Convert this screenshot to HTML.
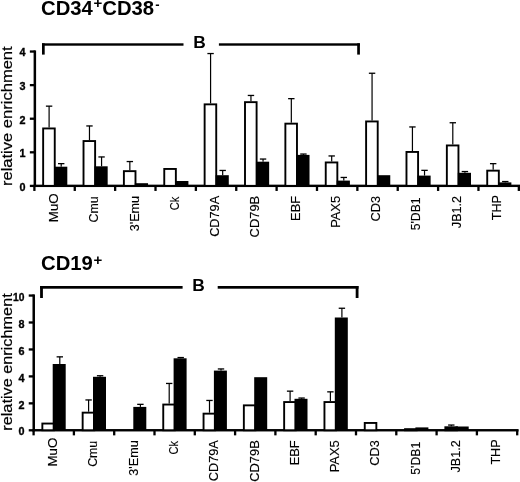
<!DOCTYPE html>
<html><head><meta charset="utf-8"><title>chart</title><style>
html,body{margin:0;padding:0;background:#fff;}svg{display:block;filter:grayscale(1)}
text{font-family:"Liberation Sans",sans-serif;fill:#000}
.tk{font-size:10.8px;font-weight:bold;stroke:#000;stroke-width:0.35px}.cat{font-size:12.9px;stroke:#000;stroke-width:0.15px}.B{font-size:17px;font-weight:bold}.yt{font-size:15.0px;stroke:#000;stroke-width:0.2px}.ttl{font-size:20px;font-weight:bold}.sup{font-size:15px;font-weight:bold}
</style></head><body>
<svg width="520" height="482" viewBox="0 0 520 482">
<rect x="0" y="0" width="520" height="482" fill="#fff"/>
<g fill="#000">
<rect x="33.60" y="50.39" width="2.5" height="136.56"/>
<rect x="33.60" y="184.65" width="486.40" height="2.4"/>
<rect x="29.85" y="184.75" width="5" height="2.3"/>
<text class="tk" transform="translate(25.55,190.75) scale(1.0,1.0)" text-anchor="end">0</text>
<rect x="29.85" y="151.16" width="5" height="2.3"/>
<text class="tk" transform="translate(25.55,157.16) scale(1.0,1.0)" text-anchor="end">1</text>
<rect x="29.85" y="117.57" width="5" height="2.3"/>
<text class="tk" transform="translate(25.55,123.57) scale(1.0,1.0)" text-anchor="end">2</text>
<rect x="29.85" y="83.98" width="5" height="2.3"/>
<text class="tk" transform="translate(25.55,89.98) scale(1.0,1.0)" text-anchor="end">3</text>
<rect x="29.85" y="50.39" width="5" height="2.3"/>
<text class="tk" transform="translate(25.55,56.39) scale(1.0,1.0)" text-anchor="end">4</text>
<rect x="33.25" y="185.85" width="2.3" height="5.1"/>
<rect x="73.62" y="185.85" width="2.3" height="5.1"/>
<rect x="113.99" y="185.85" width="2.3" height="5.1"/>
<rect x="154.36" y="185.85" width="2.3" height="5.1"/>
<rect x="194.73" y="185.85" width="2.3" height="5.1"/>
<rect x="235.10" y="185.85" width="2.3" height="5.1"/>
<rect x="275.47" y="185.85" width="2.3" height="5.1"/>
<rect x="315.84" y="185.85" width="2.3" height="5.1"/>
<rect x="356.21" y="185.85" width="2.3" height="5.1"/>
<rect x="396.58" y="185.85" width="2.3" height="5.1"/>
<rect x="436.95" y="185.85" width="2.3" height="5.1"/>
<rect x="477.32" y="185.85" width="2.3" height="5.1"/>
<rect x="517.69" y="185.85" width="2.3" height="5.1"/>
<rect x="43.15" y="128.45" width="11.60" height="57.40" fill="#fff" stroke="#000" stroke-width="1.9"/>
<rect x="48.50" y="106.10" width="1.2" height="21.40"/>
<rect x="45.90" y="105.50" width="6.4" height="1.3"/>
<rect x="54.10" y="166.70" width="13.2" height="19.15"/>
<rect x="60.60" y="163.60" width="1.2" height="3.10"/>
<rect x="58.00" y="163.00" width="6.4" height="1.3"/>
<text class="cat" transform="translate(57.90,193.25) rotate(-90) scale(1.035,1.0)" text-anchor="end">MuO</text>
<rect x="83.52" y="141.05" width="11.60" height="44.80" fill="#fff" stroke="#000" stroke-width="1.9"/>
<rect x="88.87" y="125.90" width="1.2" height="14.20"/>
<rect x="86.27" y="125.30" width="6.4" height="1.3"/>
<rect x="94.47" y="166.30" width="13.2" height="19.55"/>
<rect x="100.97" y="156.90" width="1.2" height="9.40"/>
<rect x="98.37" y="156.30" width="6.4" height="1.3"/>
<text class="cat" transform="translate(98.20,196.35) rotate(-90) scale(0.96,1.0)" text-anchor="end">Cmu</text>
<rect x="123.89" y="171.15" width="11.60" height="14.70" fill="#fff" stroke="#000" stroke-width="1.9"/>
<rect x="129.24" y="161.50" width="1.2" height="8.70"/>
<rect x="126.64" y="160.90" width="6.4" height="1.3"/>
<rect x="134.84" y="183.20" width="13.2" height="2.65"/>
<text class="cat" transform="translate(138.50,195.85) rotate(-90) scale(0.98,1.0)" text-anchor="end">3'Emu</text>
<rect x="164.26" y="168.95" width="11.60" height="16.90" fill="#fff" stroke="#000" stroke-width="1.9"/>
<rect x="175.21" y="181.00" width="13.2" height="4.85"/>
<text class="cat" transform="translate(178.80,196.65) rotate(-90) scale(0.86,1.0)" text-anchor="end">Ck</text>
<rect x="204.63" y="104.35" width="11.60" height="81.50" fill="#fff" stroke="#000" stroke-width="1.9"/>
<rect x="209.98" y="53.50" width="1.2" height="49.90"/>
<rect x="207.38" y="52.90" width="6.4" height="1.3"/>
<rect x="215.58" y="175.20" width="13.2" height="10.65"/>
<rect x="222.08" y="170.40" width="1.2" height="4.80"/>
<rect x="219.48" y="169.80" width="6.4" height="1.3"/>
<text class="cat" transform="translate(219.10,195.85) rotate(-90) scale(0.985,1.0)" text-anchor="end">CD79A</text>
<rect x="245.00" y="102.15" width="11.60" height="83.70" fill="#fff" stroke="#000" stroke-width="1.9"/>
<rect x="250.35" y="95.40" width="1.2" height="5.80"/>
<rect x="247.75" y="94.80" width="6.4" height="1.3"/>
<rect x="255.95" y="161.70" width="13.2" height="24.15"/>
<rect x="262.45" y="159.00" width="1.2" height="2.70"/>
<rect x="259.85" y="158.40" width="6.4" height="1.3"/>
<text class="cat" transform="translate(259.40,195.85) rotate(-90) scale(1.0,1.0)" text-anchor="end">CD79B</text>
<rect x="285.37" y="123.65" width="11.60" height="62.20" fill="#fff" stroke="#000" stroke-width="1.9"/>
<rect x="290.72" y="98.60" width="1.2" height="24.10"/>
<rect x="288.12" y="98.00" width="6.4" height="1.3"/>
<rect x="296.32" y="154.90" width="13.2" height="30.95"/>
<rect x="302.82" y="154.00" width="1.2" height="0.90"/>
<rect x="300.22" y="153.40" width="6.4" height="1.3"/>
<text class="cat" transform="translate(299.70,195.85) rotate(-90) scale(1.0,1.0)" text-anchor="end">EBF</text>
<rect x="325.74" y="162.45" width="11.60" height="23.40" fill="#fff" stroke="#000" stroke-width="1.9"/>
<rect x="331.09" y="155.90" width="1.2" height="5.60"/>
<rect x="328.49" y="155.30" width="6.4" height="1.3"/>
<rect x="336.69" y="180.60" width="13.2" height="5.25"/>
<rect x="343.19" y="177.40" width="1.2" height="3.20"/>
<rect x="340.59" y="176.80" width="6.4" height="1.3"/>
<text class="cat" transform="translate(340.00,195.85) rotate(-90) scale(1.0,1.0)" text-anchor="end">PAX5</text>
<rect x="366.11" y="121.45" width="11.60" height="64.40" fill="#fff" stroke="#000" stroke-width="1.9"/>
<rect x="371.46" y="73.20" width="1.2" height="47.30"/>
<rect x="368.86" y="72.60" width="6.4" height="1.3"/>
<rect x="377.06" y="175.20" width="13.2" height="10.65"/>
<text class="cat" transform="translate(379.50,195.85) rotate(-90) scale(0.99,1.0)" text-anchor="end">CD3</text>
<rect x="406.48" y="151.95" width="11.60" height="33.90" fill="#fff" stroke="#000" stroke-width="1.9"/>
<rect x="411.83" y="126.90" width="1.2" height="24.10"/>
<rect x="409.23" y="126.30" width="6.4" height="1.3"/>
<rect x="417.43" y="175.60" width="13.2" height="10.25"/>
<rect x="423.93" y="170.30" width="1.2" height="5.30"/>
<rect x="421.33" y="169.70" width="6.4" height="1.3"/>
<text class="cat" transform="translate(420.30,197.35) rotate(-90) scale(0.95,1.0)" text-anchor="end">5'DB1</text>
<rect x="446.85" y="145.45" width="11.60" height="40.40" fill="#fff" stroke="#000" stroke-width="1.9"/>
<rect x="452.20" y="122.70" width="1.2" height="21.80"/>
<rect x="449.60" y="122.10" width="6.4" height="1.3"/>
<rect x="457.80" y="172.80" width="13.2" height="13.05"/>
<rect x="464.30" y="171.50" width="1.2" height="1.30"/>
<rect x="461.70" y="170.90" width="6.4" height="1.3"/>
<text class="cat" transform="translate(460.90,195.85) rotate(-90) scale(0.98,1.0)" text-anchor="end">JB1.2</text>
<rect x="487.22" y="170.65" width="11.60" height="15.20" fill="#fff" stroke="#000" stroke-width="1.9"/>
<rect x="492.57" y="163.60" width="1.2" height="6.10"/>
<rect x="489.97" y="163.00" width="6.4" height="1.3"/>
<rect x="498.17" y="182.40" width="13.2" height="3.45"/>
<rect x="504.67" y="181.50" width="1.2" height="0.90"/>
<rect x="502.07" y="180.90" width="6.4" height="1.3"/>
<text class="cat" transform="translate(501.20,195.05) rotate(-90) scale(0.975,1.0)" text-anchor="end">THP</text>
<rect x="42.00" y="43.30" width="141.50" height="2.40"/>
<rect x="42.00" y="43.30" width="2.70" height="11.30"/>
<rect x="218.90" y="43.30" width="141.00" height="2.40"/>
<rect x="357.20" y="43.30" width="2.70" height="11.30"/>
<text class="B" transform="translate(193.20,48.10) scale(1.02,1.0)">B</text>
<text class="yt" transform="translate(12.00,186.05) rotate(-90) scale(1.103,1.0)">relative enrichment</text>
<rect x="32.48" y="294.40" width="2.5" height="136.95"/>
<rect x="32.48" y="429.05" width="486.12" height="2.4"/>
<rect x="28.73" y="429.15" width="5" height="2.3"/>
<text class="tk" transform="translate(24.43,435.45) scale(1.0,1.0)" text-anchor="end">0</text>
<rect x="28.73" y="402.20" width="5" height="2.3"/>
<text class="tk" transform="translate(24.43,408.50) scale(1.0,1.0)" text-anchor="end">2</text>
<rect x="28.73" y="375.25" width="5" height="2.3"/>
<text class="tk" transform="translate(24.43,381.55) scale(1.0,1.0)" text-anchor="end">4</text>
<rect x="28.73" y="348.30" width="5" height="2.3"/>
<text class="tk" transform="translate(24.43,354.60) scale(1.0,1.0)" text-anchor="end">6</text>
<rect x="28.73" y="321.35" width="5" height="2.3"/>
<text class="tk" transform="translate(24.43,327.65) scale(1.0,1.0)" text-anchor="end">8</text>
<rect x="28.73" y="294.40" width="5" height="2.3"/>
<text class="tk" transform="translate(24.43,300.70) scale(0.95,1.0)" text-anchor="end">10</text>
<rect x="32.45" y="430.25" width="2.3" height="5.1"/>
<rect x="72.75" y="430.25" width="2.3" height="5.1"/>
<rect x="113.05" y="430.25" width="2.3" height="5.1"/>
<rect x="153.35" y="430.25" width="2.3" height="5.1"/>
<rect x="193.65" y="430.25" width="2.3" height="5.1"/>
<rect x="233.95" y="430.25" width="2.3" height="5.1"/>
<rect x="274.25" y="430.25" width="2.3" height="5.1"/>
<rect x="314.55" y="430.25" width="2.3" height="5.1"/>
<rect x="354.85" y="430.25" width="2.3" height="5.1"/>
<rect x="395.15" y="430.25" width="2.3" height="5.1"/>
<rect x="435.45" y="430.25" width="2.3" height="5.1"/>
<rect x="475.75" y="430.25" width="2.3" height="5.1"/>
<rect x="516.05" y="430.25" width="2.3" height="5.1"/>
<rect x="42.35" y="423.55" width="11.60" height="6.70" fill="#fff" stroke="#000" stroke-width="1.9"/>
<rect x="52.70" y="364.00" width="13.0" height="66.25"/>
<rect x="59.20" y="356.80" width="1.2" height="7.20"/>
<rect x="56.60" y="356.20" width="6.4" height="1.3"/>
<text class="cat" transform="translate(57.10,437.65) rotate(-90) scale(1.035,1.0)" text-anchor="end">MuO</text>
<rect x="82.65" y="412.65" width="11.60" height="17.60" fill="#fff" stroke="#000" stroke-width="1.9"/>
<rect x="88.00" y="399.90" width="1.2" height="11.80"/>
<rect x="85.40" y="399.30" width="6.4" height="1.3"/>
<rect x="93.00" y="376.80" width="13.0" height="53.45"/>
<rect x="99.50" y="375.70" width="1.2" height="1.10"/>
<rect x="96.90" y="375.10" width="6.4" height="1.3"/>
<text class="cat" transform="translate(97.40,440.75) rotate(-90) scale(0.96,1.0)" text-anchor="end">Cmu</text>
<rect x="133.30" y="406.90" width="13.0" height="23.35"/>
<rect x="139.80" y="404.30" width="1.2" height="2.60"/>
<rect x="137.20" y="403.70" width="6.4" height="1.3"/>
<text class="cat" transform="translate(137.70,440.25) rotate(-90) scale(0.98,1.0)" text-anchor="end">3'Emu</text>
<rect x="163.25" y="404.55" width="11.60" height="25.70" fill="#fff" stroke="#000" stroke-width="1.9"/>
<rect x="168.60" y="383.40" width="1.2" height="20.20"/>
<rect x="166.00" y="382.80" width="6.4" height="1.3"/>
<rect x="173.60" y="358.30" width="13.0" height="71.95"/>
<rect x="180.10" y="357.50" width="1.2" height="0.80"/>
<rect x="177.50" y="356.90" width="6.4" height="1.3"/>
<text class="cat" transform="translate(178.00,441.05) rotate(-90) scale(0.86,1.0)" text-anchor="end">Ck</text>
<rect x="203.55" y="413.65" width="11.60" height="16.60" fill="#fff" stroke="#000" stroke-width="1.9"/>
<rect x="208.90" y="400.40" width="1.2" height="12.30"/>
<rect x="206.30" y="399.80" width="6.4" height="1.3"/>
<rect x="213.90" y="370.60" width="13.0" height="59.65"/>
<rect x="220.40" y="368.90" width="1.2" height="1.70"/>
<rect x="217.80" y="368.30" width="6.4" height="1.3"/>
<text class="cat" transform="translate(218.30,440.25) rotate(-90) scale(0.985,1.0)" text-anchor="end">CD79A</text>
<rect x="243.85" y="405.35" width="11.60" height="24.90" fill="#fff" stroke="#000" stroke-width="1.9"/>
<rect x="254.20" y="377.20" width="13.0" height="53.05"/>
<text class="cat" transform="translate(258.60,440.25) rotate(-90) scale(1.0,1.0)" text-anchor="end">CD79B</text>
<rect x="284.15" y="402.05" width="11.60" height="28.20" fill="#fff" stroke="#000" stroke-width="1.9"/>
<rect x="289.50" y="391.10" width="1.2" height="10.00"/>
<rect x="286.90" y="390.50" width="6.4" height="1.3"/>
<rect x="294.50" y="398.80" width="13.0" height="31.45"/>
<rect x="301.00" y="398.00" width="1.2" height="0.80"/>
<rect x="298.40" y="397.40" width="6.4" height="1.3"/>
<text class="cat" transform="translate(298.90,440.25) rotate(-90) scale(1.0,1.0)" text-anchor="end">EBF</text>
<rect x="324.45" y="402.05" width="11.60" height="28.20" fill="#fff" stroke="#000" stroke-width="1.9"/>
<rect x="329.80" y="391.80" width="1.2" height="9.30"/>
<rect x="327.20" y="391.20" width="6.4" height="1.3"/>
<rect x="334.80" y="317.50" width="13.0" height="112.75"/>
<rect x="341.30" y="308.20" width="1.2" height="9.30"/>
<rect x="338.70" y="307.60" width="6.4" height="1.3"/>
<text class="cat" transform="translate(339.20,440.25) rotate(-90) scale(1.0,1.0)" text-anchor="end">PAX5</text>
<rect x="364.75" y="422.95" width="11.60" height="7.30" fill="#fff" stroke="#000" stroke-width="1.9"/>
<text class="cat" transform="translate(378.70,440.25) rotate(-90) scale(0.99,1.0)" text-anchor="end">CD3</text>
<rect x="405.05" y="429.15" width="11.60" height="1.10" fill="#000" stroke="#000" stroke-width="1.9"/>
<rect x="415.40" y="427.40" width="13.0" height="2.85"/>
<text class="cat" transform="translate(419.50,441.75) rotate(-90) scale(0.95,1.0)" text-anchor="end">5'DB1</text>
<rect x="445.35" y="427.25" width="11.60" height="3.00" fill="#000" stroke="#000" stroke-width="1.9"/>
<rect x="450.70" y="425.00" width="1.2" height="1.30"/>
<rect x="448.10" y="424.40" width="6.4" height="1.3"/>
<rect x="455.70" y="426.50" width="13.0" height="3.75"/>
<text class="cat" transform="translate(460.10,440.25) rotate(-90) scale(0.98,1.0)" text-anchor="end">JB1.2</text>
<text class="cat" transform="translate(500.40,439.45) rotate(-90) scale(0.975,1.0)" text-anchor="end">THP</text>
<rect x="40.10" y="286.00" width="142.50" height="2.70"/>
<rect x="40.10" y="286.00" width="2.80" height="12.00"/>
<rect x="217.70" y="286.00" width="140.80" height="2.70"/>
<rect x="355.70" y="286.00" width="2.80" height="12.00"/>
<text class="B" transform="translate(192.30,291.40) scale(1.02,1.0)">B</text>
<text class="yt" transform="translate(11.52,430.75) rotate(-90) scale(1.086,1.0)">relative enrichment</text>
<text class="ttl" transform="translate(41.0,14.9) scale(1.014,1.0)">CD34</text>
<text class="sup" transform="translate(93.6,7.6) scale(1.0,1.0)">+</text>
<text class="ttl" transform="translate(102.3,14.9) scale(1.014,1.0)">CD38</text>
<text class="sup" style="font-size:13px" transform="translate(155.3,8.6) scale(1.0,1.0)">-</text>
<text class="ttl" transform="translate(41.0,270.4) scale(1.014,1.0)">CD19</text>
<text class="sup" transform="translate(93.6,264.7) scale(1.0,1.0)">+</text>
</g></svg></body></html>
